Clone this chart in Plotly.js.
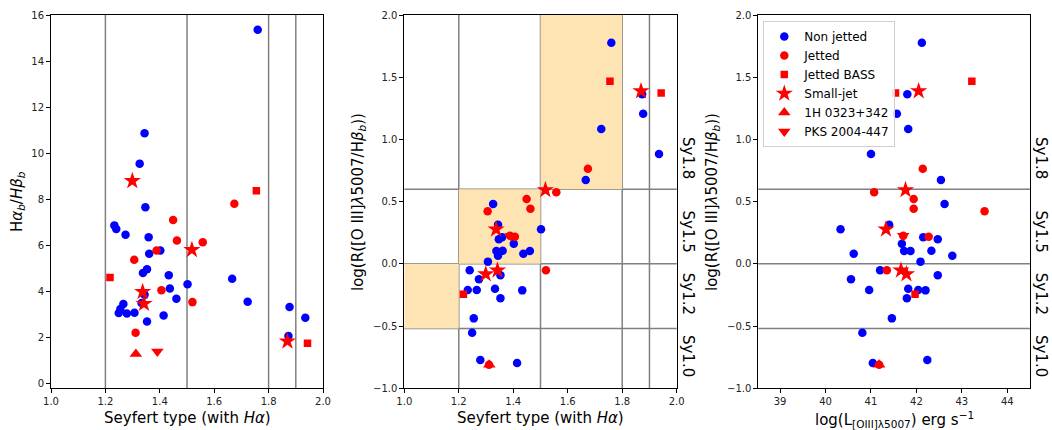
<!DOCTYPE html>
<html>
<head>
<meta charset="utf-8">
<script src="https://cdn.plot.ly/plotly-3.0.1.min.js"></script>
<style>html,body{margin:0;padding:0;background:#fff;}#chart{width:1052px;height:430px;}</style>
</head>
<body>
<div id="chart"></div>
<script>
// ---- data ----
const blueType   = [1.760,1.873,1.877,1.723,1.935,1.666,1.326,1.344,1.347,1.359,1.502,1.402,1.338,1.361,1.344,1.437,1.461,1.307,1.240,1.274,1.353,1.233,1.266,1.333,1.353,1.433,1.255,1.249,1.279,1.414];
const blueBalmer = [15.36,2.07,3.33,3.56,2.86,4.55,9.55,10.87,7.66,6.36,4.32,5.78,4.80,5.64,3.86,4.13,3.69,3.08,6.71,6.46,4.97,6.87,3.46,3.50,2.70,4.71,3.24,3.07,3.05,2.96];
const blueLogR   = [1.777,1.363,1.207,1.084,0.883,0.674,0.481,0.315,0.197,0.213,0.278,0.162,0.103,0.106,0.066,0.082,0.103,0.018,-0.052,-0.124,-0.092,-0.210,-0.210,-0.200,-0.277,-0.213,-0.438,-0.553,-0.773,-0.797];
const blueLogL   = [42.12,41.80,41.57,41.82,41.00,42.54,42.62,41.40,42.47,42.15,40.33,41.68,41.73,42.33,42.79,40.62,41.87,42.09,41.20,40.56,42.47,40.96,42.04,41.82,41.79,42.20,41.46,40.81,42.24,41.04];

const jetType   = [1.674,1.558,1.449,1.463,1.306,1.406,1.520,1.388,1.311];
const jetBalmer = [7.81,6.14,7.10,6.21,5.38,4.06,3.54,5.78,2.21];
const jetLogR   = [0.765,0.575,0.521,0.443,0.422,0.218,-0.052,0.226,-0.810];
const jetLogL   = [42.14,41.07,41.94,41.94,43.50,42.27,41.35,41.71,41.18];

const bassType   = [1.217,1.755,1.943];
const bassBalmer = [4.61,8.37,1.75];
const bassLogR   = [-0.245,1.467,1.373];
const bassLogL   = [41.97,43.22,41.54];

const smallType   = [1.869,1.518,1.299,1.337,1.342];
const smallBalmer = [1.84,5.81,8.80,3.99,3.47];
const smallLogR   = [1.389,0.594,-0.082,0.278,-0.052];
const smallLogL   = [42.05,41.76,41.78,41.33,41.66];

const h1Type = [1.312], h1Balmer = [1.29], h1LogR = [-0.81], h1LogL = [41.18];
const pksType = [1.391], pksBalmer = [1.40], pksLogR = [0.226], pksLogL = [41.71];

const typeBounds = [1.2, 1.5, 1.8, 1.9];
const syBounds = [0.6, 0.0, -0.52];
const syLabels = ['Sy1.8', 'Sy1.5', 'Sy1.2', 'Sy1.0'];
const syLabelY = [0.85, 0.26, -0.24, -0.74];
const shadeX0 = [1.0, 1.2, 1.5], shadeX1 = [1.2, 1.5, 1.8];
const shadeY0 = [-0.52, 0.0, 0.6], shadeY1 = [0.0, 0.6, 2.0];

// ---- styling ----
const FONT = 'DejaVu Sans, Liberation Sans, sans-serif';
const BLUE = '#0000ff', RED = '#ff0000';
const groups = [
  {name:'Non jetted', color:BLUE, symbol:'circle', size:8.5, t:blueType, b:blueBalmer, r:blueLogR, l:blueLogL},
  {name:'Jetted', color:RED, symbol:'circle', size:8.5, t:jetType, b:jetBalmer, r:jetLogR, l:jetLogL},
  {name:'Jetted BASS', color:RED, symbol:'square', size:7.5, t:bassType, b:bassBalmer, r:bassLogR, l:bassLogL},
  {name:'Small-jet', color:RED, symbol:'star', size:13, t:smallType, b:smallBalmer, r:smallLogR, l:smallLogL},
  {name:'1H 0323+342', color:RED, symbol:'triangle-up', size:11, t:h1Type, b:h1Balmer, r:h1LogR, l:h1LogL},
  {name:'PKS 2004-447', color:RED, symbol:'triangle-down', size:11, t:pksType, b:pksBalmer, r:pksLogR, l:pksLogL}
];

const traces = [];
groups.forEach(g => {
  const mk = {color:g.color, symbol:g.symbol, size:g.size, line:{width:0}};
  traces.push({type:'scatter', mode:'markers', x:g.t, y:g.b, xaxis:'x', yaxis:'y', marker:mk, showlegend:false, hoverinfo:'skip'});
  traces.push({type:'scatter', mode:'markers', x:g.t, y:g.r, xaxis:'x2', yaxis:'y2', marker:mk, showlegend:false, hoverinfo:'skip'});
  traces.push({type:'scatter', mode:'markers', x:g.l, y:g.r, xaxis:'x3', yaxis:'y3', marker:mk, name:g.name, showlegend:true, hoverinfo:'skip'});
});

const shapes = [];
const GRAY = '#808080';
// shaded regions (middle)
for (let i = 0; i < shadeX0.length; i++) {
  shapes.push({type:'rect', xref:'x2', yref:'y2', x0:shadeX0[i], x1:shadeX1[i], y0:shadeY0[i], y1:shadeY1[i],
               fillcolor:'#ffe4b3', line:{width:0}, layer:'below'});
}
// vertical lines (left and middle)
typeBounds.forEach(v => {
  ['x','x2'].forEach((ax, k) => {
    const ya = k === 0 ? 'y domain' : 'y2 domain';
    shapes.push({type:'line', xref:ax, yref:ya, x0:v, x1:v, y0:0, y1:1, line:{color:GRAY, width:1.5}, layer:'below'});
  });
});
// horizontal lines (middle and right)
syBounds.forEach(h => {
  shapes.push({type:'line', xref:'x2 domain', yref:'y2', x0:0, x1:1, y0:h, y1:h, line:{color:GRAY, width:1.5}, layer:'below'});
  shapes.push({type:'line', xref:'x3 domain', yref:'y3', x0:0, x1:1, y0:h, y1:h, line:{color:GRAY, width:1.5}, layer:'below'});
});

const annotations = [];
syLabels.forEach((s, i) => {
  annotations.push({text:s, xref:'paper', yref:'y2', x:688/1052, y:syLabelY[i], showarrow:false, textangle:90,
                    font:{family:FONT, size:15, color:'#000'}, xanchor:'center', yanchor:'middle'});
  annotations.push({text:s, xref:'paper', yref:'y3', x:1041/1052, y:syLabelY[i], showarrow:false, textangle:90,
                    font:{family:FONT, size:15, color:'#000'}, xanchor:'center', yanchor:'middle'});
});
const titleFont = {family:FONT, size:15, color:'#000'};
function ann(text, x, y, angle) {
  annotations.push({text:text, xref:'paper', yref:'paper', x:x/1052, y:(430-y)/430, showarrow:false,
                    textangle:angle||0, font:titleFont, xanchor:'center', yanchor:'middle'});
}
ann('Seyfert type (with <i>Hα</i>)', 187, 418);
ann('Seyfert type (with <i>Hα</i>)', 540.5, 418);
ann('log(L<sub>[OIII]λ5007</sub>) erg s<sup>−1</sup>', 894, 419);
ann('H<i>α</i><sub><i>b</i></sub>/<i>Hβ</i><sub><i>b</i></sub>', 17.5, 201.5, -90);
ann('log(R([O III]<i>λ</i>5007/H<i>β</i><sub><i>b</i></sub>))', 358, 202, -90);
ann('log(R([O III]<i>λ</i>5007/H<i>β</i><sub><i>b</i></sub>))', 712, 202, -90);

const tickFont = {family:FONT, size:10, color:'#222'};
function axis(domain, range, dtick, fmt) {
  return {domain:domain, range:range, dtick:dtick, tick0:0, tickformat:fmt, showgrid:false, zeroline:false,
          showline:true, mirror:true, linecolor:'#000', linewidth:1, ticks:'outside', ticklen:4, tickwidth:1,
          tickcolor:'#000', tickfont:tickFont, fixedrange:true};
}
const yd = [41.7/430, 415/430];
const layout = {
  width:1052, height:430, margin:{l:0, r:0, t:0, b:0}, paper_bgcolor:'#fff', plot_bgcolor:'rgba(0,0,0,0)',
  font:{family:FONT},
  xaxis: axis([51/1052, 323/1052], [1, 2], 0.2, '.1f'),
  yaxis: axis(yd, [-0.2, 16], 2, 'd'),
  xaxis2: Object.assign(axis([404.3/1052, 676.7/1052], [1, 2], 0.2, '.1f'), {anchor:'y2'}),
  yaxis2: Object.assign(axis(yd, [-1, 2], 0.5, '.1f'), {anchor:'x2'}),
  xaxis3: Object.assign(axis([758.3/1052, 1030/1052], [38.52, 44.5], 1, 'd'), {anchor:'y3'}),
  yaxis3: Object.assign(axis(yd, [-1, 2], 0.5, '.1f'), {anchor:'x3'}),
  shapes:shapes, annotations:annotations,
  legend:{x:763.3/1052, y:1-21/430, xanchor:'left', yanchor:'top', bgcolor:'rgba(255,255,255,0.85)',
          bordercolor:'#d0d0d0', borderwidth:1, font:{family:FONT, size:12, color:'#000'}},
  showlegend:true
};
layout.xaxis.anchor = 'y';
layout.yaxis.anchor = 'x';
Plotly.newPlot('chart', traces, layout, {displayModeBar:false, staticPlot:true});
</script>
</body>
</html>
